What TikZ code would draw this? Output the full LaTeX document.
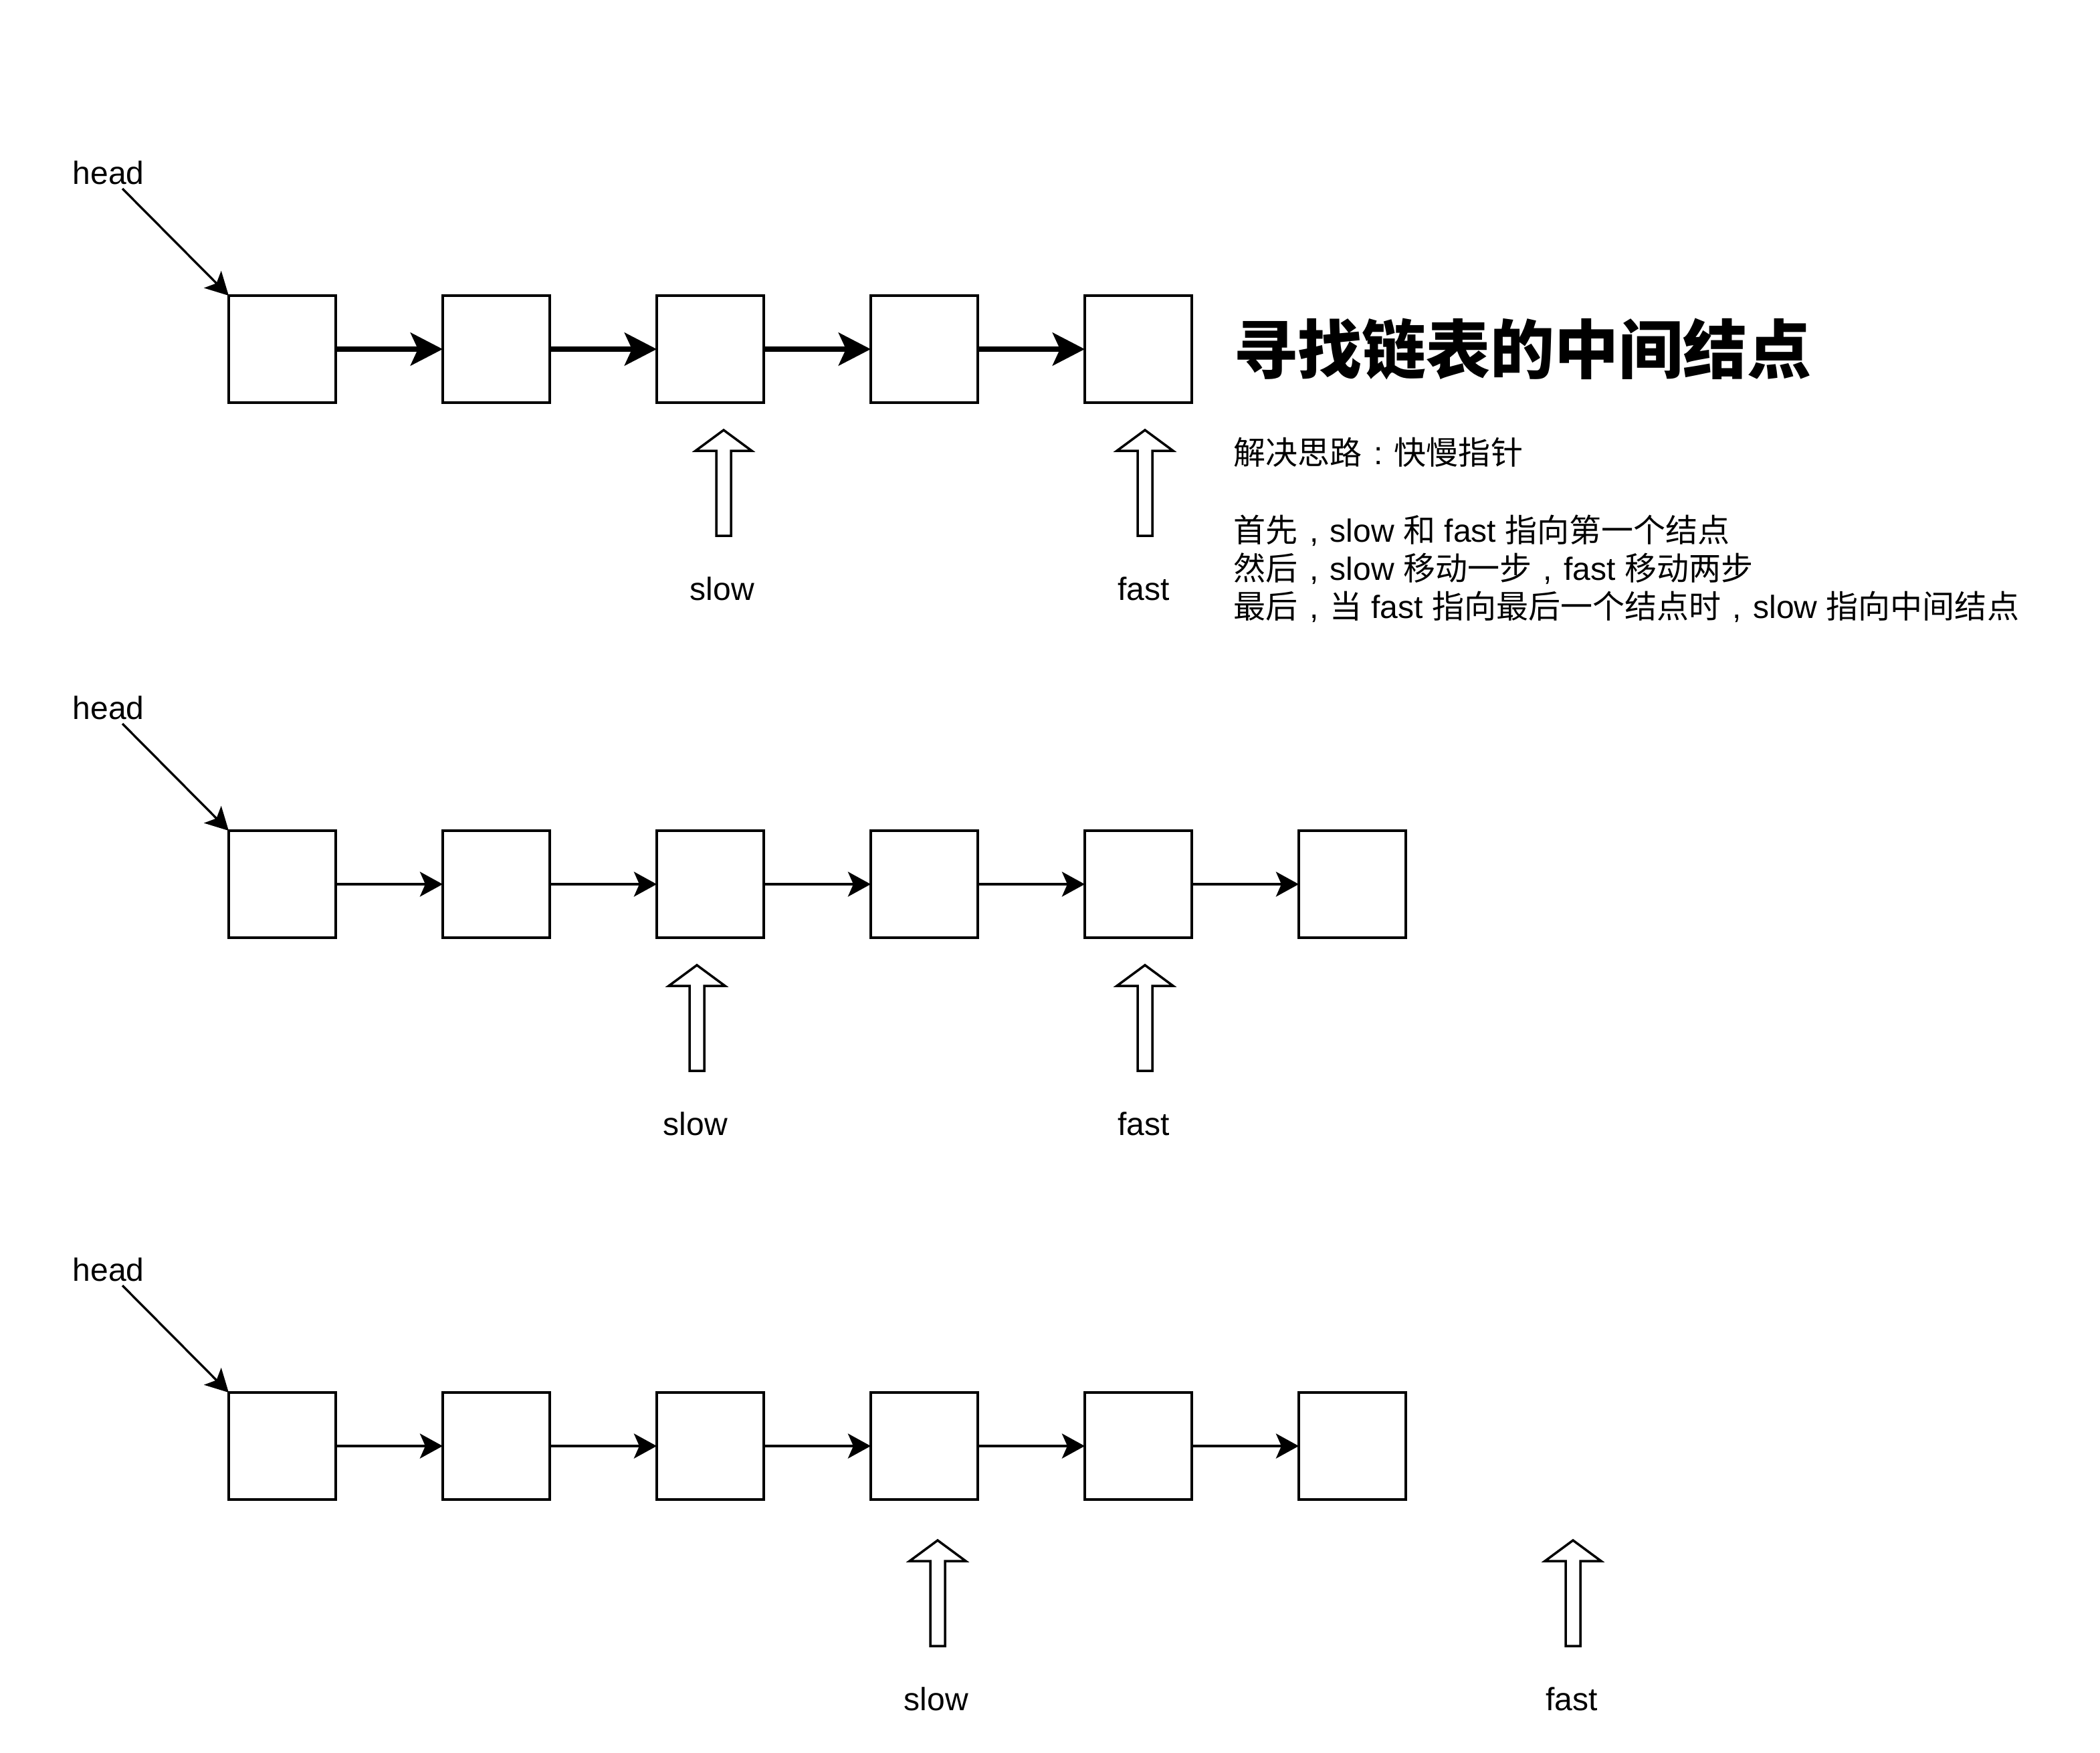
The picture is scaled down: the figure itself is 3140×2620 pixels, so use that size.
\documentclass[tikz,border=0pt]{standalone}
\usepackage{fontspec}
\setmainfont{Liberation Sans}
\newfontfamily\cjk{Noto Sans CJK SC}
\newcommand\zh[1]{{\cjk #1}}
\newcommand\zc{\makebox[1em][c]{,}}
\newcommand\zcolon{\makebox[1em][c]{:}}
\usetikzlibrary{arrows.meta}
\begin{document}
\begin{tikzpicture}[x=0.01cm,y=-0.01cm,
  box/.style={draw, line width=1.14pt, minimum width=1.6cm, minimum height=1.6cm, inner sep=0pt, outer sep=0pt},
  linkA/.style={line width=2.28pt, -{Stealth[length=0.48cm,width=0.49cm,inset=0.11cm]}},
  linkB/.style={line width=1.14pt, -{Stealth[length=0.34cm,width=0.37cm,inset=0.08cm]}},
  headlink/.style={line width=0.95pt, -{Stealth[length=0.34cm,width=0.36cm,inset=0.08cm]}},
  lbl/.style={font=\fontsize{13.66pt}{16pt}\selectfont, inner sep=0pt, anchor=base},
  body/.style={font=\fontsize{13.66pt}{16pt}\selectfont, inner sep=0pt, anchor=base west},
  hollow/.pic={\draw[line width=1pt, line join=miter] (0,0) -- (42,31) -- (11,31) -- (11,158) -- (-11,158) -- (-11,31) -- (-42,31) -- cycle;}
]
\useasboundingbox (0,0) rectangle (3140,2620);

% ---------- row 1 ----------
\foreach \i in {1,...,5} {
  \node[box] (b1\i) at ({422+320*(\i-1)},522) {};
}
\foreach \i/\j in {1/2,2/3,3/4,4/5} {
  \draw[linkA] (b1\i) -- (b1\j);
}
\node[lbl, anchor=base west] (h1) at (108,275) {head};
\coordinate (hs1) at (183,282);
\draw[headlink] (hs1) -- (b11.north west);
\pic at (1082,643) {hollow};
\pic at (1712,643) {hollow};
\node[lbl] (ls1) at (1080,897) {slow};
\node[lbl] (lf1) at (1710,897) {fast};

% ---------- row 2 ----------
\foreach \i in {1,...,6} {
  \node[box] (b2\i) at ({422+320*(\i-1)},1322) {};
}
\foreach \i/\j in {1/2,2/3,3/4,4/5,5/6} {
  \draw[linkB] (b2\i) -- (b2\j);
}
\node[lbl, anchor=base west] (h2) at (108,1075) {head};
\coordinate (hs2) at (183,1082);
\draw[headlink] (hs2) -- (b21.north west);
\pic at (1042,1443) {hollow};
\pic at (1712,1443) {hollow};
\node[lbl] (ls2) at (1040,1697) {slow};
\node[lbl] (lf2) at (1710,1697) {fast};

% ---------- row 3 ----------
\foreach \i in {1,...,6} {
  \node[box] (b3\i) at ({422+320*(\i-1)},2162) {};
}
\foreach \i/\j in {1/2,2/3,3/4,4/5,5/6} {
  \draw[linkB] (b3\i) -- (b3\j);
}
\node[lbl, anchor=base west] (h3) at (108,1915) {head};
\coordinate (hs3) at (183,1922);
\draw[headlink] (hs3) -- (b31.north west);
\pic at (1402,2303) {hollow};
\pic at (2352,2303) {hollow};
\node[lbl] (ls3) at (1400,2557) {slow};
\node[lbl] (lf3) at (2350,2557) {fast};

% ---------- text ----------
\node[anchor=base west, inner sep=0pt, font=\fontsize{27.3pt}{32pt}\selectfont\cjk\bfseries] (title) at (1844,558) {寻找链表的中间结点};
\node[body] (t1) at (1844,694) {\zh{解决思路}\zcolon\zh{快慢指针}};
\node[body] (t2) at (1844,810) {\zh{首先}\zc slow \zh{和} fast \zh{指向第一个结点}};
\node[body] (t3) at (1844,867) {\zh{然后}\zc slow \zh{移动一步}\zc fast \zh{移动两步}};
\node[body] (t4) at (1844,924) {\zh{最后}\zc\zh{当} fast \zh{指向最后一个结点时}\zc slow \zh{指向中间结点}};
\end{tikzpicture}
\end{document}
